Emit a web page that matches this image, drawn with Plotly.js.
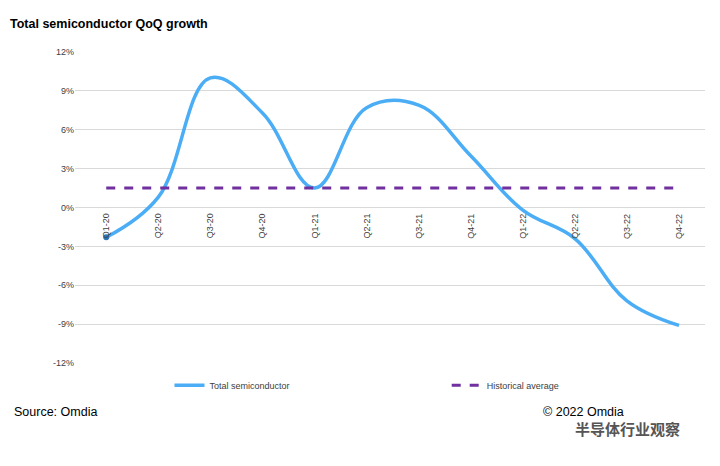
<!DOCTYPE html>
<html><head><meta charset="utf-8">
<script src="https://cdn.plot.ly/plotly-3.0.1.min.js"></script>
<style>body{margin:0;background:#fff}#myDiv{width:720px;height:466px}</style>
</head><body><div id="myDiv"></div>
<script>
var quarters = ['Q1-20','Q2-20','Q3-20','Q4-20','Q1-21','Q2-21','Q3-21','Q4-21','Q1-22','Q2-22','Q3-22','Q4-22'];
var growth = [-2.3, 0.8, 10.0, 7.3, 1.5, 7.7, 7.9, 4.0, -0.2, -2.4, -7.2, -9.1];
var histAvg = 1.5;
var yTicks = [12, 9, 6, 3, 0, -3, -6, -9, -12];

var idx = quarters.map(function(q, i){ return i; });

var trace1 = {
  x: idx, y: growth, type: 'scatter', mode: 'lines',
  name: 'Total semiconductor', legend: 'legend',
  line: {color: '#4AADF5', width: 3.5, shape: 'spline', smoothing: 1.1}
};
var trace2 = {
  x: idx, y: idx.map(function(){ return histAvg; }), type: 'scatter', mode: 'lines',
  name: 'Historical average', legend: 'legend2',
  line: {color: '#7030A0', width: 3, dash: 'dash'}
};
var trace0 = {
  x: [idx[0]], y: [growth[0]], type: 'scatter', mode: 'markers', showlegend: false,
  marker: {color: '#2E75B6', size: 6}, hoverinfo: 'skip'
};

var annotations = quarters.map(function(q, i){
  return {x: i, y: 0, xref: 'x', yref: 'y', text: q, showarrow: false,
    textangle: -90, yanchor: 'top', yshift: -4, font: {size: 9, color: '#404040'}};
});
annotations.push({xref: 'paper', yref: 'paper', x: -0.107, y: 1.12, xanchor: 'left',
  text: '<b>Total semiconductor QoQ growth</b>', showarrow: false, font: {size: 12.5, color: '#000'}});
annotations.push({xref: 'paper', yref: 'paper', x: -0.1, y: -0.185, xanchor: 'left',
  text: 'Source: Omdia', showarrow: false, font: {size: 12.5, color: '#000'}});
annotations.push({xref: 'paper', yref: 'paper', x: 0.74, y: -0.185, xanchor: 'left',
  text: '© 2022 Omdia', showarrow: false, font: {size: 12.5, color: '#000'}});
annotations.push({xref: 'paper', yref: 'paper', x: 0.79, y: -0.25, xanchor: 'left',
  text: '<b>半导体行业观察</b>', showarrow: false, font: {size: 15, color: '#555', family: 'Noto Sans CJK SC'}});

var layout = {
  width: 720, height: 466,
  margin: {l: 75, r: 15, t: 52, b: 103},
  paper_bgcolor: '#fff', plot_bgcolor: '#fff',
  font: {family: 'Liberation Sans, Arial', size: 9, color: '#404040'},
  showlegend: true,
  legend: {orientation: 'h', x: 0.15, y: -0.025, xanchor: 'left', yanchor: 'top',
    font: {size: 9, color: '#404040'}},
  legend2: {orientation: 'h', x: 0.59, y: -0.025, xanchor: 'left', yanchor: 'top',
    font: {size: 9, color: '#404040'}},
  xaxis: {range: [-0.6, 11.5], showticklabels: false, showgrid: false, zeroline: false, fixedrange: true},
  yaxis: {range: [-12, 12], tickvals: yTicks, ticktext: yTicks.map(function(v){ return v + '%'; }),
    gridcolor: '#d9d9d9', zeroline: true, zerolinecolor: '#d9d9d9', ticks: ''},
  annotations: annotations
};

Plotly.newPlot('myDiv', [trace1, trace2, trace0], layout, {displayModeBar: false});
</script></body></html>
